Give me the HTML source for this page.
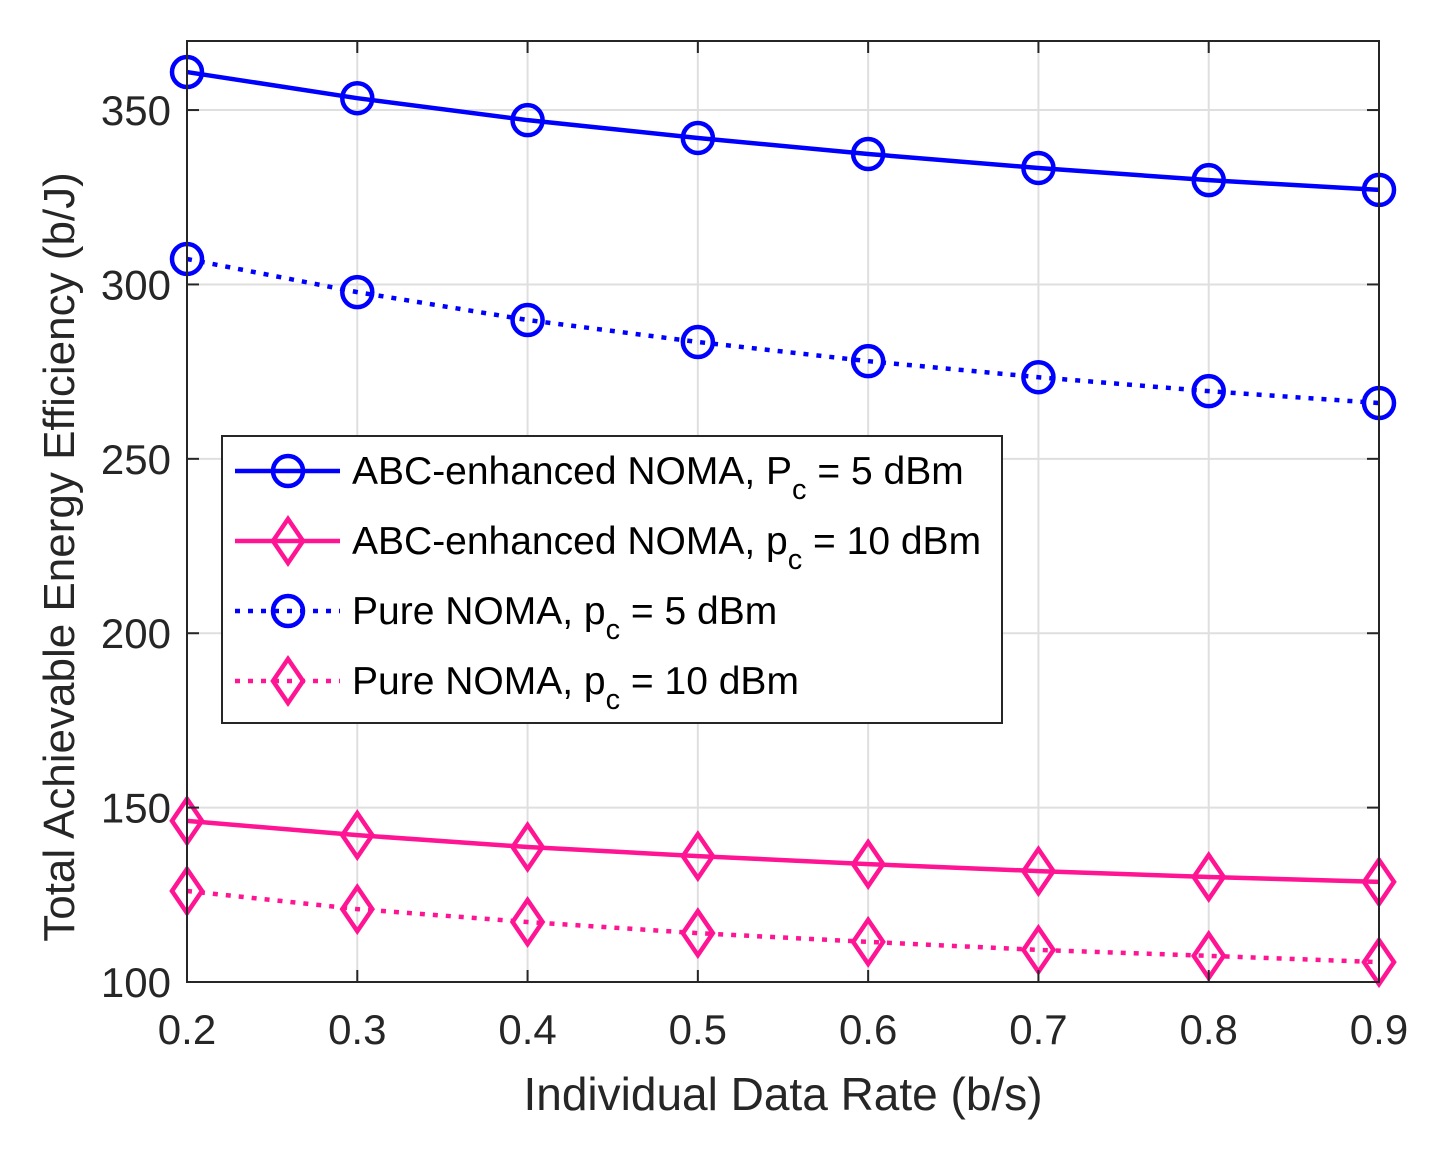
<!DOCTYPE html>
<html><head><meta charset="utf-8"><style>
html,body{margin:0;padding:0;background:#fff}
svg text{font-family:"Liberation Sans",Arial,sans-serif}
</style></head><body>
<svg id="chart" width="1431" height="1146" xmlns="http://www.w3.org/2000/svg">
<rect width="1431" height="1146" fill="#fff"/>
<g id="grid"></g>
<g id="series"></g>
<g id="axes"></g>
<text x="783" y="1110" font-size="46" fill="#262626" text-anchor="middle">Individual Data Rate (b/s)</text>
<text transform="translate(74,557) rotate(-90)" font-size="44" fill="#262626" text-anchor="middle">Total Achievable Energy Efficiency (b/J)</text>
<g id="legend"></g>
</svg>
<script>
const xValues=[0.2,0.3,0.4,0.5,0.6,0.7,0.8,0.9];
const abc5=[360.9,353.4,347.1,342.0,337.4,333.4,329.9,327.1];
const abc10=[146.2,142.1,138.7,136.1,133.8,131.8,130.1,128.7];
const pure5=[307.3,297.8,289.8,283.5,278.0,273.4,269.4,266.0];
const pure10=[126.1,120.9,117.2,114.0,111.5,109.2,107.5,105.7];
const xTicks=[0.2,0.3,0.4,0.5,0.6,0.7,0.8,0.9];
const yTicks=[100,150,200,250,300,350];
const L=187,R=1379,T=41,B=982,XMIN=0.2,XMAX=0.9,YMIN=100,YMAX=369.8;
const NS="http://www.w3.org/2000/svg";
const sx=v=>L+(v-XMIN)/(XMAX-XMIN)*(R-L);
const sy=v=>B-(v-YMIN)/(YMAX-YMIN)*(B-T);
function mk(tag,attrs,parent){const e=document.createElementNS(NS,tag);for(const k in attrs)e.setAttribute(k,attrs[k]);parent.appendChild(e);return e;}
const grid=document.getElementById('grid'),axes=document.getElementById('axes'),ser=document.getElementById('series'),leg=document.getElementById('legend');
mk('rect',{x:L,y:T,width:R-L,height:B-T,fill:'#fff'},grid);
xTicks.forEach(t=>{const x=sx(t);
 const g=mk('line',{x1:x,x2:x,y1:T,y2:B,stroke:'#dfdfdf','stroke-width':2},grid);
 
 
 mk('line',{x1:x,x2:x,y1:B,y2:B-12,stroke:'#262626','stroke-width':2},axes);
 mk('line',{x1:x,x2:x,y1:T,y2:T+12,stroke:'#262626','stroke-width':2},axes);
 const tx=mk('text',{x:x,y:B+62,'font-size':42,fill:'#262626','text-anchor':'middle'},axes);tx.textContent=t.toFixed(1);
 
 
});
yTicks.forEach(t=>{const y=sy(t);
 const g=mk('line',{x1:L,x2:R,y1:y,y2:y,stroke:'#dfdfdf','stroke-width':2},grid);
 
 
 mk('line',{x1:L,x2:L+12,y1:y,y2:y,stroke:'#262626','stroke-width':2},axes);
 mk('line',{x1:R,x2:R-12,y1:y,y2:y,stroke:'#262626','stroke-width':2},axes);
 const tx=mk('text',{x:L-16,y:y+15,'font-size':42,fill:'#262626','text-anchor':'end'},axes);tx.textContent=t;
 
 
});
mk('rect',{x:L,y:T,width:R-L,height:B-T,fill:'none',stroke:'#262626','stroke-width':2},axes);
function marker(type,x,y,color,parent){
 if(type==='o')return mk('circle',{cx:x,cy:y,r:15,fill:'none',stroke:color,'stroke-width':4.5},parent);
 return mk('polygon',{points:`${x},${y-22} ${x+15},${y} ${x},${y+22} ${x-15},${y}`,fill:'none',stroke:color,'stroke-width':4.5},parent);
}
const specs=[
 {d:abc5,c:'#0000ff',dash:null,m:'o',name:'abc-noma-5dbm'},
 {d:abc10,c:'#ff1493',dash:null,m:'d',name:'abc-noma-10dbm'},
 {d:pure5,c:'#0000ff',dash:'5 8',m:'o',name:'pure-noma-5dbm'},
 {d:pure10,c:'#ff1493',dash:'5 8',m:'d',name:'pure-noma-10dbm'}];
specs.forEach(s=>{
 const g=mk('g',{},ser);
 
 
 const pts=s.d.map((v,i)=>sx(xValues[i])+','+sy(v)).join(' ');
 const a={points:pts,fill:'none',stroke:s.c,'stroke-width':4.5};
 if(s.dash)a['stroke-dasharray']=s.dash;
 mk('polyline',a,g);
 s.d.forEach((v,i)=>{const m=marker(s.m,sx(xValues[i]),sy(v),s.c,g);
  
  });
});
mk('rect',{x:222,y:436,width:780,height:287,fill:'#fff',stroke:'#262626','stroke-width':2},leg);
const labels=[['ABC-enhanced NOMA, ','P',' = 5 dBm'],['ABC-enhanced NOMA, ','p',' = 10 dBm'],['Pure NOMA, ','p',' = 5 dBm'],['Pure NOMA, ','p',' = 10 dBm']];
specs.forEach((s,i)=>{const y=471+i*70;
 const g=mk('g',{},leg);
 
 
 const a={x1:235,x2:340,y1:y,y2:y,stroke:s.c,'stroke-width':4.5};
 if(s.dash)a['stroke-dasharray']=s.dash;
 mk('line',a,g);marker(s.m,288,y,s.c,g);
 const t=mk('text',{x:352,y:y+13,'font-size':39,fill:'#000'},g);
 const l=labels[i];
 t.appendChild(document.createTextNode(l[0]+l[1]));
 const sub=mk('tspan',{dy:15,'font-size':29},t);sub.textContent='c';
 const rest=mk('tspan',{dy:-15},t);rest.textContent=l[2];
});
</script>
</body></html>
